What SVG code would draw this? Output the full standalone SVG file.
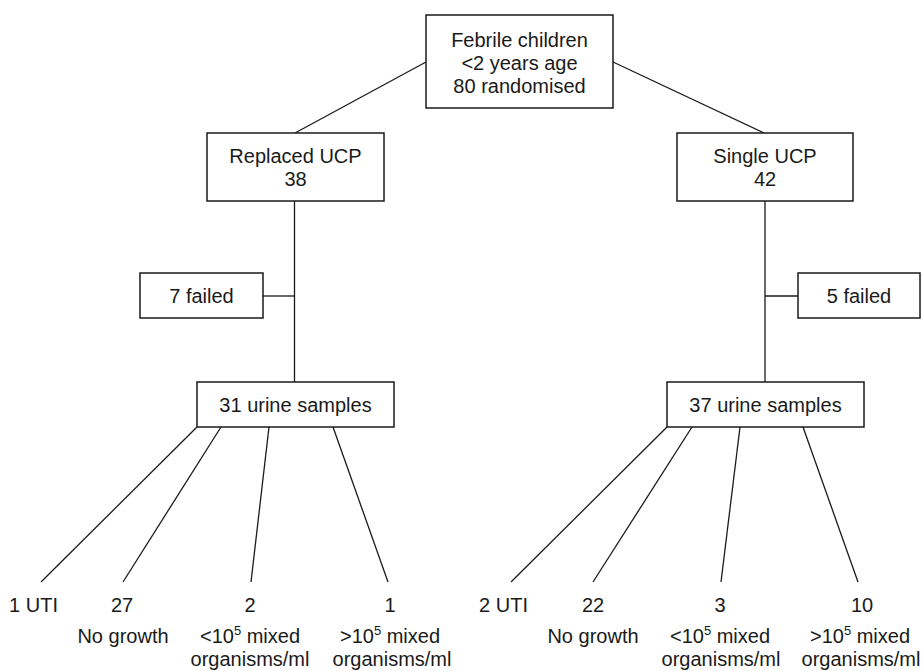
<svg xmlns="http://www.w3.org/2000/svg" width="922" height="671" viewBox="0 0 922 671">
<style>
.box{fill:#fff;stroke:#1a1a1a;stroke-width:1.5}
.ln{stroke:#1a1a1a;stroke-width:1.3;fill:none}
text{font-family:"Liberation Sans",Arial,sans-serif;font-size:20px;fill:#1a1a1a;text-anchor:middle}
.sup{font-size:13px}
</style>
<rect width="922" height="671" fill="#fff"/>
<g id="connectors">
<line class="ln" x1="426" y1="62" x2="295" y2="133"/>
<line class="ln" x1="613" y1="62" x2="764" y2="133"/>
<line class="ln" x1="294.5" y1="201" x2="294.5" y2="382"/>
<line class="ln" x1="263" y1="296" x2="294.5" y2="296"/>
<line class="ln" x1="765" y1="201" x2="765" y2="382"/>
<line class="ln" x1="765" y1="296" x2="798" y2="296"/>
<line class="ln" x1="197" y1="427" x2="41" y2="582"/>
<line class="ln" x1="221" y1="427" x2="123" y2="582"/>
<line class="ln" x1="269" y1="427" x2="251" y2="582"/>
<line class="ln" x1="333" y1="427" x2="388" y2="582"/>
<line class="ln" x1="667" y1="427" x2="511" y2="582"/>
<line class="ln" x1="692" y1="427" x2="593" y2="582"/>
<line class="ln" x1="740" y1="427" x2="721" y2="582"/>
<line class="ln" x1="803" y1="427" x2="858" y2="582"/>
</g>
<g id="top">
<rect class="box" x="426" y="15" width="187" height="93"/>
<text x="519.5" y="47">Febrile children</text>
<text x="519.5" y="70">&lt;2 years age</text>
<text x="519.5" y="93">80 randomised</text>
</g>
<g id="replaced">
<rect class="box" x="207" y="133" width="177" height="68"/>
<text x="295.5" y="163">Replaced UCP</text>
<text x="295.5" y="186">38</text>
</g>
<g id="single">
<rect class="box" x="677" y="133" width="176" height="68"/>
<text x="765" y="163">Single UCP</text>
<text x="765" y="186">42</text>
</g>
<g id="failed7">
<rect class="box" x="140" y="273" width="123" height="45"/>
<text x="201.5" y="303">7 failed</text>
</g>
<g id="failed5">
<rect class="box" x="798" y="273" width="122" height="45"/>
<text x="859" y="303">5 failed</text>
</g>
<g id="urine31">
<rect class="box" x="197" y="382" width="197" height="45"/>
<text x="295.5" y="412">31 urine samples</text>
</g>
<g id="urine37">
<rect class="box" x="667" y="382" width="197" height="45"/>
<text x="765.5" y="412">37 urine samples</text>
</g>
<g id="l-uti">
<text x="33.5" y="612">1 UTI</text>
</g>
<g id="l-nogrowth">
<text x="122" y="612">27</text>
<text x="123" y="643">No growth</text>
</g>
<g id="l-less">
<text x="250" y="612">2</text>
<text x="250" y="643">&lt;10<tspan class="sup" dy="-8">5</tspan><tspan dy="8"> mixed</tspan></text>
<text x="250" y="666">organisms/ml</text>
</g>
<g id="l-more">
<text x="390" y="612">1</text>
<text x="390" y="643">&gt;10<tspan class="sup" dy="-8">5</tspan><tspan dy="8"> mixed</tspan></text>
<text x="392" y="666">organisms/ml</text>
</g>
<g id="r-uti">
<text x="503.5" y="612">2 UTI</text>
</g>
<g id="r-nogrowth">
<text x="593" y="612">22</text>
<text x="593" y="643">No growth</text>
</g>
<g id="r-less">
<text x="720" y="612">3</text>
<text x="720" y="643">&lt;10<tspan class="sup" dy="-8">5</tspan><tspan dy="8"> mixed</tspan></text>
<text x="721" y="666">organisms/ml</text>
</g>
<g id="r-more">
<text x="862" y="612">10</text>
<text x="860" y="643">&gt;10<tspan class="sup" dy="-8">5</tspan><tspan dy="8"> mixed</tspan></text>
<text x="861" y="666">organisms/ml</text>
</g>
</svg>
